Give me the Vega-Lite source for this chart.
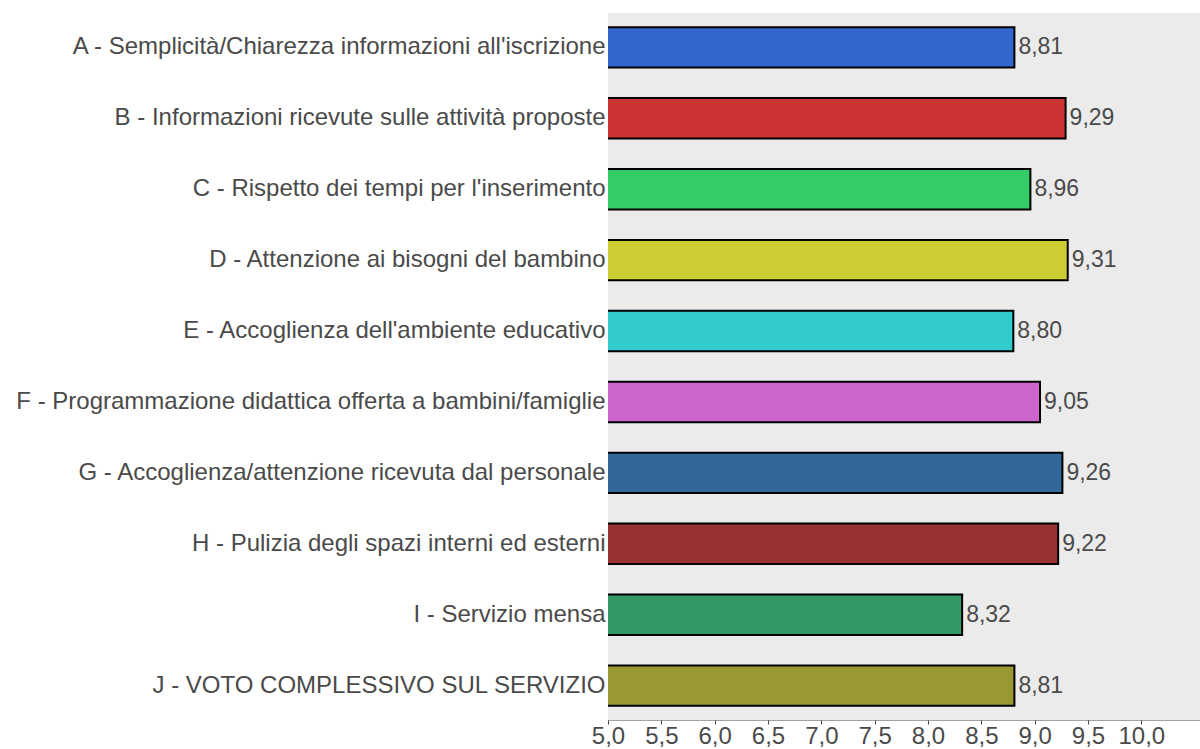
{
  "$schema": "https://vega.github.io/schema/vega-lite/v6.json",
  "width": 592,
  "height": 707,
  "autosize": {"type": "none"},
  "padding": {"left": 608, "top": 13, "right": 0, "bottom": 29},
  "background": "white",
  "config": {
    "locale": {"number": {"decimal": ",", "thousands": ".", "grouping": [3], "currency": ["€", ""]}},
    "view": {"fill": "#ebebeb", "stroke": null},
    "font": "Liberation Sans"
  },
  "data": {
    "values": [
      {"cat": "A - Semplicità/Chiarezza informazioni all'iscrizione", "v": 8.81, "c": "#3366cc"},
      {"cat": "B - Informazioni ricevute sulle attività proposte", "v": 9.29, "c": "#cc3333"},
      {"cat": "C - Rispetto dei tempi per l'inserimento", "v": 8.96, "c": "#33cc66"},
      {"cat": "D - Attenzione ai bisogni del bambino", "v": 9.31, "c": "#cccc33"},
      {"cat": "E - Accoglienza dell'ambiente educativo", "v": 8.80, "c": "#33cccc"},
      {"cat": "F - Programmazione didattica offerta a bambini/famiglie", "v": 9.05, "c": "#cc66cc"},
      {"cat": "G - Accoglienza/attenzione ricevuta dal personale", "v": 9.26, "c": "#336699"},
      {"cat": "H - Pulizia degli spazi interni ed esterni", "v": 9.22, "c": "#993333"},
      {"cat": "I - Servizio mensa", "v": 8.32, "c": "#339966"},
      {"cat": "J - VOTO COMPLESSIVO SUL SERVIZIO", "v": 8.81, "c": "#999933"}
    ]
  },
  "encoding": {
    "y": {
      "field": "cat", "type": "nominal", "sort": null, "title": null,
      "scale": {"paddingInner": 0.43, "paddingOuter": 0.2},
      "axis": {"ticks": false, "domain": false, "labelFontSize": 24, "labelColor": "#4a4a4a", "labelPadding": 3, "labelLimit": 620, "labelFont": "Liberation Sans"}
    },
    "x": {
      "field": "v", "type": "quantitative", "title": null,
      "scale": {"domain": [5, 10.55], "nice": false, "zero": false},
      "axis": {
        "values": [5, 5.5, 6, 6.5, 7, 7.5, 8, 8.5, 9, 9.5, 10],
        "format": ".1f", "grid": false, "labelFontSize": 24, "labelColor": "#4a4a4a",
        "domainColor": "#444444", "domainDash": [1, 1], "tickColor": "#444444", "tickSize": 4,
        "labelPadding": 0, "labelFlush": false, "labelFont": "Liberation Sans"
      }
    }
  },
  "layer": [
    {
      "mark": {"type": "bar", "stroke": "black", "strokeWidth": 2, "clip": true},
      "encoding": {"color": {"field": "c", "type": "nominal", "scale": null}}
    },
    {
      "mark": {"type": "text", "align": "left", "dx": 4, "fontSize": 23, "color": "#4a4a4a", "font": "Liberation Sans"},
      "encoding": {"text": {"field": "v", "type": "quantitative", "format": ".2f"}}
    }
  ]
}
